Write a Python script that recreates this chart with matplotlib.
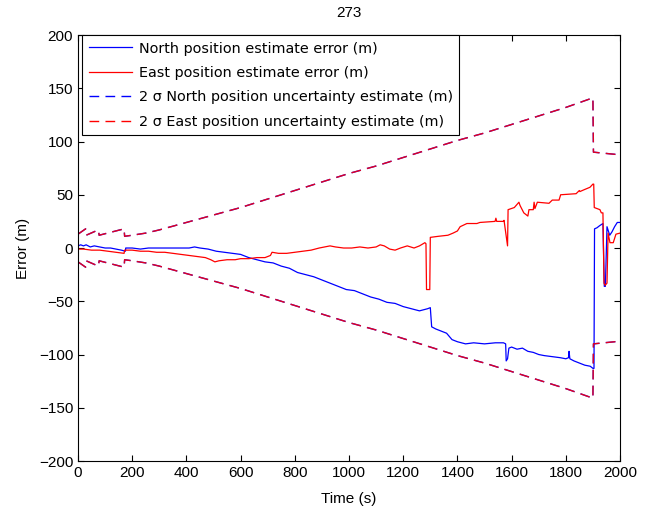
import numpy as np
import matplotlib.pyplot as plt

# north position estimate error (m)
north_t = [0, 10, 20, 30, 45, 60, 80, 100, 120, 140, 160, 175, 176, 200, 230, 260,
           300, 340, 380, 410, 430, 450, 480, 510, 540, 570, 600, 630, 660, 690,
           720, 750, 780, 810, 840, 870, 900, 930, 960, 990, 1020, 1050, 1080,
           1110, 1140, 1170, 1200, 1230, 1260, 1290, 1300, 1305, 1320, 1340, 1360,
           1380, 1400, 1430, 1460, 1500, 1540, 1570, 1578, 1580, 1585, 1590, 1600,
           1620, 1640, 1660, 1680, 1700, 1720, 1750, 1780, 1800, 1810, 1812, 1815,
           1830, 1850, 1870, 1890, 1900, 1904, 1906, 1915, 1925, 1937, 1942, 1946,
           1952, 1962, 1970, 1980, 1990, 2000]
north_err = [2, 3, 2, 3, 1, 2, 1, 0, 0, -1, -2, -3, 0, 0, -1, 0,
             0, 0, 0, 0, 1, 0, -1, -3, -4, -5, -6, -9, -11, -13,
             -14, -17, -19, -23, -25, -27, -30, -33, -36, -39, -40, -43, -46,
             -48, -51, -52, -55, -57, -59, -57, -56, -74, -76, -78, -80,
             -86, -88, -90, -89, -90, -89, -89, -90, -106, -104, -94, -93,
             -95, -94, -97, -98, -100, -101, -102, -103, -104, -103, -97, -104,
             -106, -108, -110, -111, -113, -113, 18, 19, 21, 23, -36, -36,
             20, 12, 15, 20, 24, 24]

# east position estimate error (m)
east_t = [0, 20, 50, 80, 110, 140, 170, 172, 200, 230, 260, 290, 320, 350, 380,
          410, 440, 470, 490, 505, 520, 550, 580, 600, 630, 660, 690, 710, 716,
          740, 770, 800, 830, 860, 890, 910, 930, 950, 980, 1010, 1040, 1070,
          1100, 1115, 1130, 1150, 1170, 1190, 1215, 1240, 1260, 1280, 1284, 1286,
          1298, 1300, 1330, 1365, 1384, 1400, 1410, 1435, 1472, 1483, 1539, 1542,
          1545, 1570, 1572, 1585, 1587, 1610, 1627, 1631, 1645, 1660, 1664, 1680,
          1683, 1686, 1695, 1738, 1750, 1775, 1781, 1838, 1850, 1852, 1870, 1889,
          1900, 1903, 1905, 1926, 1931, 1937, 1941, 1945, 1952, 1956, 1963, 1975,
          1985, 2000]
east_err = [-1, -1, -2, -2, -3, -4, -5, -2, -2, -3, -3, -4, -4, -5, -6,
            -7, -8, -9, -11, -13, -12, -11, -11, -10, -10, -9, -9, -7, -4,
            -5, -5, -4, -3, -2, 0, 1, 2, 1, 0, 0, 1, 0,
            1, 3, 2, -1, -2, 0, 2, 0, 2, 5, 4, -39,
            -39, 10, 11, 12, 14, 16, 20, 23, 23, 24, 25, 28,
            25, 25, 26, 2, 36, 38, 43, 40, 33, 30, 36, 36,
            43, 37, 43, 42, 45, 45, 50, 51, 54, 53, 55, 57,
            60, 60, 38, 36, 33, 33, -33, -35, -33, 14, 5, 5,
            13, 14]

# 2 sigma position uncertainty envelope (m)
sigma_t = [0, 28, 30, 75, 78, 170, 172, 200, 250, 300, 400, 500, 600, 700, 800,
           900, 1000, 1100, 1200, 1300, 1400, 1500, 1600, 1700, 1800, 1900, 1902,
           2000]
sigma_n = [13, 18, 12, 17, 12, 18, 11, 12, 14, 17, 24, 31, 38, 46, 54,
           62, 70, 77, 85, 93, 101, 108, 116, 124, 132, 141, 90,
           87.5]
sigma_e = sigma_n

fig = plt.figure(figsize=(6.48, 5.11), dpi=100)
ax = fig.add_axes([0.1204, 0.0978, 0.8364, 0.8337])

dash = (7, 4.5)
ax.plot(north_t, north_err, color='#0000ff', lw=0.9,
        label='North position estimate error (m)')
ax.plot(east_t, east_err, color='#ff0000', lw=0.9,
        label='East position estimate error (m)')
sn = np.array(sigma_n)
se = np.array(sigma_e)
ax.plot(sigma_t, sn, color='#0000ff', lw=1.0, dashes=dash,
        label='2 \u03c3 North position uncertainty estimate (m)')
ax.plot(sigma_t, -sn, color='#0000ff', lw=1.0, dashes=dash)
ax.plot(sigma_t, se, color='#ff0000', lw=1.0, dashes=dash, alpha=0.88)
ax.plot(sigma_t, -se, color='#ff0000', lw=1.0, dashes=dash, alpha=0.88)
# legend proxy for the east sigma line
ax.plot([], [], color='#ff0000', lw=1.0, dashes=dash,
        label='2 \u03c3 East position uncertainty estimate (m)')

ax.set_xlim(0, 2000)
ax.set_ylim(-200, 200)
ax.set_xticks(np.arange(0, 2001, 200))
ax.set_yticks(np.arange(-200, 201, 50))
ax.tick_params(direction='in', top=True, right=True, labelsize=11, length=4)
for lab in ax.get_xticklabels() + ax.get_yticklabels():
    lab.set_family('Liberation Sans')

ax.set_xlabel('Time (s)', fontsize=11, family='Liberation Sans', labelpad=9)
ax.set_ylabel('Error (m)', fontsize=11, family='Liberation Sans', labelpad=6)
ax.set_title('273', fontsize=11, family='Liberation Sans', pad=13)

leg = ax.legend(loc='upper left', bbox_to_anchor=(0.008, 1.0), borderaxespad=0,
                prop={'family': 'DejaVu Sans', 'size': 10.4}, fancybox=False,
                framealpha=1, edgecolor='black', handlelength=3.0,
                labelspacing=0.72, borderpad=0.45, handletextpad=0.45)
leg.get_frame().set_linewidth(0.8)

fig.savefig('out.png', dpi=100)
